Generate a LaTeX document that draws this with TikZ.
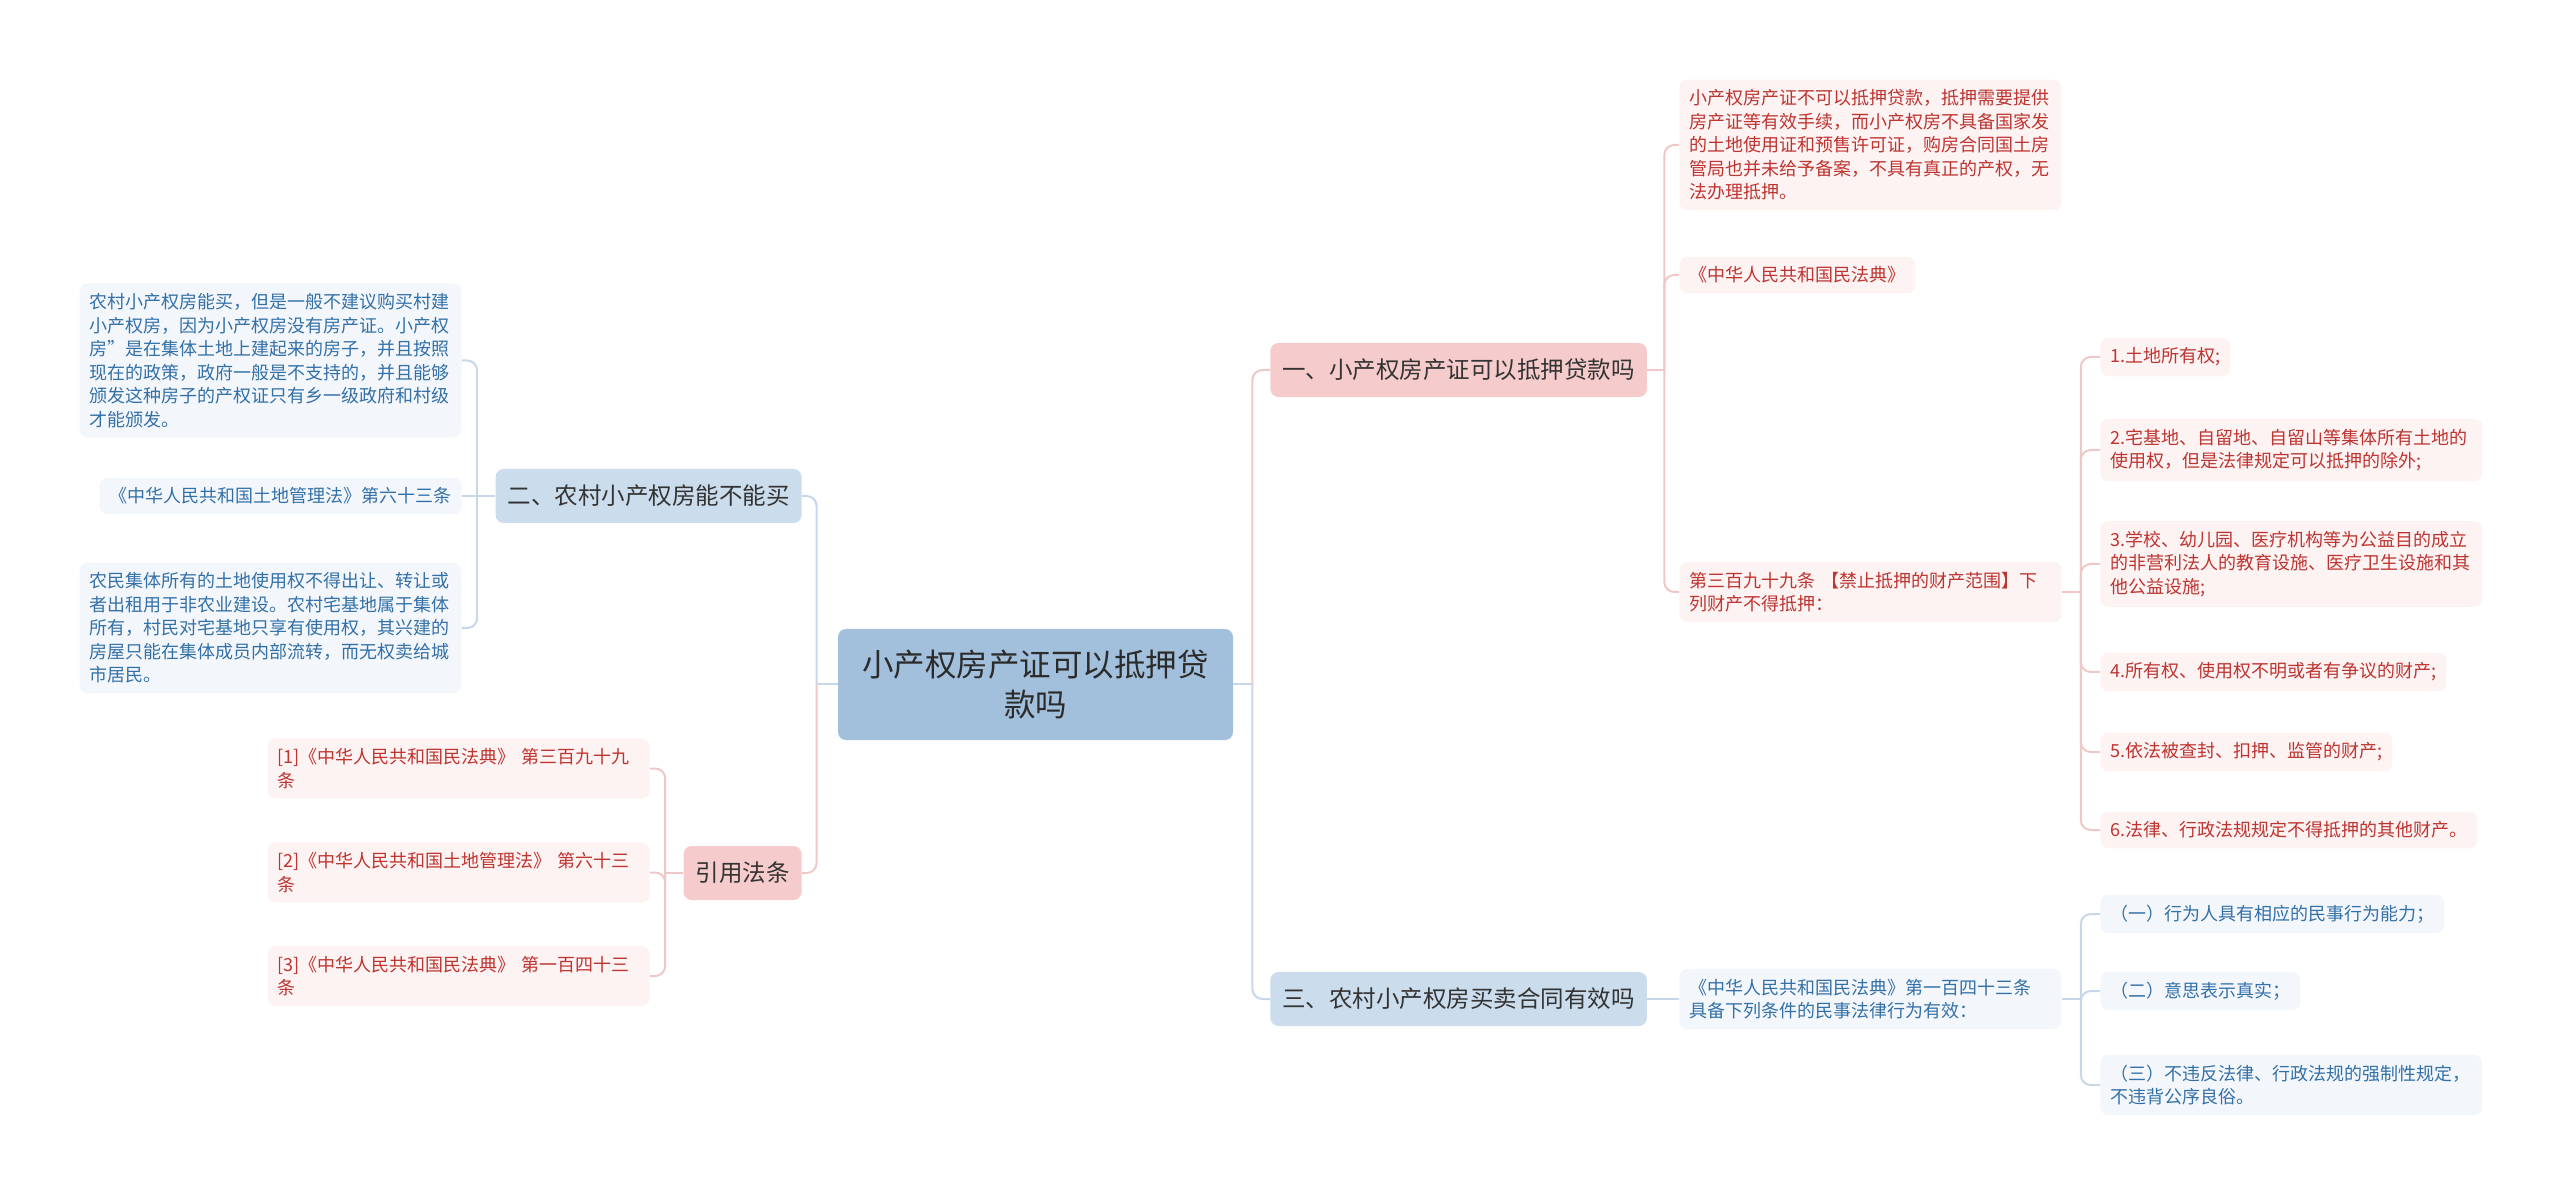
\documentclass[tikz,border=0pt]{standalone}
\usepackage{fontspec}
\setmainfont{Noto Sans CJK SC}
\usetikzlibrary{positioning}

\definecolor{rootfill}{HTML}{A2C0DC}
\definecolor{roottext}{HTML}{2B2B2B}
\definecolor{bluebranchfill}{HTML}{CBDCEC}
\definecolor{pinkbranchfill}{HTML}{F5CBCB}
\definecolor{branchtext}{HTML}{333333}
\definecolor{pinkleaffill}{HTML}{FDF3F3}
\definecolor{blueleaffill}{HTML}{F3F7FC}
\definecolor{pinktext}{HTML}{BE3430}
\definecolor{bluetext}{HTML}{3470A8}
\definecolor{linkpink}{HTML}{F0C7C7}
\definecolor{linkblue}{HTML}{C6D7E9}

\tikzset{
  root/.style={fill=rootfill, text=roottext, rounded corners=4pt, align=center,
    minimum width=197.5pt, minimum height=55.5pt,
    font=\fontsize{15.75pt}{20pt}\selectfont},
  branch/.style={rounded corners=4pt, inner xsep=6pt, minimum height=27pt,
    text=branchtext, font=\fontsize{11.75pt}{14pt}\selectfont},
  bluebranch/.style={branch, fill=bluebranchfill},
  pinkbranch/.style={branch, fill=pinkbranchfill},
  leaf/.style={rounded corners=4pt, inner xsep=5pt, inner ysep=5pt, align=left,
    font=\fontsize{9pt}{11.75pt}\selectfont},
  pinkleaf/.style={leaf, fill=pinkleaffill, text=pinktext},
  blueleaf/.style={leaf, fill=blueleaffill, text=bluetext},
  wide/.style={text width=181pt},
  pinklink/.style={draw=linkpink, line width=1pt, rounded corners=5pt},
  bluelink/.style={draw=linkblue, line width=1pt, rounded corners=5pt}
}

\begin{document}
\begin{tikzpicture}[x=0.5pt, y=-0.5pt]
    \useasboundingbox (0,0) rectangle (2560,1197);

    % centre and main branches
    \node[root] (root) at (1035.5,684.5) {小产权房产证可以抵押贷\\款吗};
    \node[pinkbranch, anchor=west] (sec1) at (1270,370) {一、小产权房产证可以抵押贷款吗};
    \node[bluebranch, anchor=east] (sec2) at (802,496) {二、农村小产权房能不能买};
    \node[bluebranch, anchor=west] (sec3) at (1270,999) {三、农村小产权房买卖合同有效吗};
    \node[pinkbranch, anchor=east] (refs) at (802,873) {引用法条};

    % branch one
    \node[pinkleaf, wide, anchor=west] (s1a) at (1679,145) {小产权房产证不可以抵押贷款，抵押需要提供\\房产证等有效手续，而小产权房不具备国家发\\的土地使用证和预售许可证，购房合同国土房\\管局也并未给予备案，不具有真正的产权，无\\法办理抵押。};
    \node[pinkleaf, anchor=west] (s1b) at (1679,275) {《中华人民共和国民法典》};
    \node[pinkleaf, wide, anchor=west] (s1c) at (1679,592) {第三百九十九条 【禁止抵押的财产范围】下\\列财产不得抵押：};

    \node[pinkleaf, anchor=west] (item1) at (2100,357) {1.土地所有权;};
    \node[pinkleaf, wide, anchor=west] (item2) at (2100,450) {2.宅基地、自留地、自留山等集体所有土地的\\使用权，但是法律规定可以抵押的除外;};
    \node[pinkleaf, wide, anchor=west] (item3) at (2100,564) {3.学校、幼儿园、医疗机构等为公益目的成立\\的非营利法人的教育设施、医疗卫生设施和其\\他公益设施;};
    \node[pinkleaf, anchor=west] (item4) at (2100,672) {4.所有权、使用权不明或者有争议的财产;};
    \node[pinkleaf, anchor=west] (item5) at (2100,752) {5.依法被查封、扣押、监管的财产;};
    \node[pinkleaf, anchor=west] (item6) at (2100,830) {6.法律、行政法规规定不得抵押的其他财产。};

    % branch two
    \node[blueleaf, wide, anchor=east] (s2a) at (462,360.5) {农村小产权房能买，但是一般不建议购买村建\\小产权房，因为小产权房没有房产证。小产权\\房”是在集体土地上建起来的房子，并且按照\\现在的政策，政府一般是不支持的，并且能够\\颁发这种房子的产权证只有乡一级政府和村级\\才能颁发。};
    \node[blueleaf, anchor=east] (s2b) at (462,496) {《中华人民共和国土地管理法》第六十三条};
    \node[blueleaf, wide, anchor=east] (s2c) at (462,628) {农民集体所有的土地使用权不得出让、转让或\\者出租用于非农业建设。农村宅基地属于集体\\所有，村民对宅基地只享有使用权，其兴建的\\房屋只能在集体成员内部流转，而无权卖给城\\市居民。};

    % branch three
    \node[blueleaf, wide, anchor=west] (s3a) at (1679,999) {《中华人民共和国民法典》第一百四十三条\\具备下列条件的民事法律行为有效：};
    \node[blueleaf, anchor=west] (cond1) at (2100,914) {（一）行为人具有相应的民事行为能力；};
    \node[blueleaf, anchor=west] (cond2) at (2100,991) {（二）意思表示真实；};
    \node[blueleaf, wide, anchor=west] (cond3) at (2100,1085) {（三）不违反法律、行政法规的强制性规定，\\不违背公序良俗。};

    % cited laws
    \node[pinkleaf, wide, anchor=east] (ref1) at (650,768.5) {[1]《中华人民共和国民法典》 第三百九十九\\条};
    \node[pinkleaf, wide, anchor=east] (ref2) at (650,872.5) {[2]《中华人民共和国土地管理法》 第六十三\\条};
    \node[pinkleaf, wide, anchor=east] (ref3) at (650,976) {[3]《中华人民共和国民法典》 第一百四十三\\条};

    % connectors
    \coordinate[right=9.5pt of root.east] (tR);
    \coordinate[left=10.5pt of root.west] (tL);
    \draw[bluelink] (root.east) -- (tR);
    \draw[pinklink] (tR) |- (sec1.west);
    \draw[bluelink] (tR) |- (sec3.west);
    \draw[bluelink] (root.west) -- (tL);
    \draw[bluelink] (tL) |- (sec2.east);
    \draw[pinklink] (tL) |- (refs.east);

    \coordinate[right=8.5pt of sec1.east] (t1);
    \draw[pinklink] (sec1.east) -- (t1);
    \foreach \n in {s1a,s1b,s1c}
        \draw[pinklink] (t1) |- (\n.west);

    \coordinate[right=9.5pt of s1c.east] (tC);
    \draw[pinklink] (s1c.east) -- (tC);
    \foreach \n in {1,...,6}
        \draw[pinklink] (tC) |- (item\n.west);

    \coordinate[left=9pt of sec2.west] (t2);
    \draw[bluelink] (sec2.west) -- (s2b.east);
    \foreach \n in {s2a,s2c}
        \draw[bluelink] (t2) |- (\n.east);

    \draw[bluelink] (sec3.east) -- (s3a.west);
    \coordinate[right=9.5pt of s3a.east] (tD);
    \draw[bluelink] (s3a.east) -- (tD);
    \foreach \n in {1,2,3}
        \draw[bluelink] (tD) |- (cond\n.west);

    \coordinate[left=9pt of refs.west] (t4);
    \draw[pinklink] (refs.west) -- (t4);
    \foreach \n in {ref1,ref2,ref3}
        \draw[pinklink] (t4) |- (\n.east);
\end{tikzpicture}
\end{document}
